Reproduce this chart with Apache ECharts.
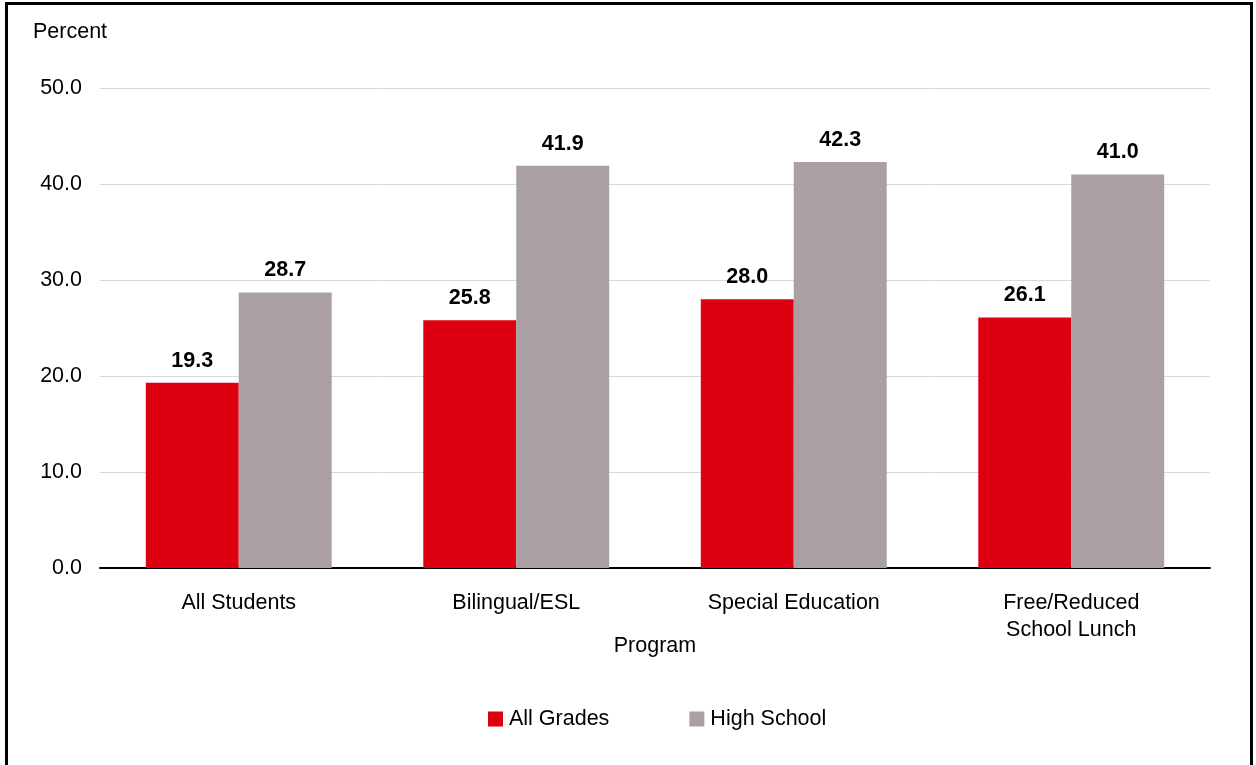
<!DOCTYPE html>
<html>
<head>
<meta charset="utf-8">
<script src="https://cdn.jsdelivr.net/npm/echarts@6/dist/echarts.min.js"></script>
<style>
  html, body { margin: 0; padding: 0; background: #fff; }
  #frame { position: absolute; left: 5px; top: 2px; width: 1248px; height: 780px;
           border: 3px solid #000; box-sizing: border-box; }
  #chart { position: absolute; left: 0; top: 0; width: 1256px; height: 765px; }
</style>
</head>
<body>
<div id="frame"></div>
<div id="chart"></div>
<script>
const categories = ['All Students', 'Bilingual/ESL', 'Special Education', 'Free/Reduced\nSchool Lunch'];
const allGrades = [19.3, 25.8, 28.0, 26.1];
const highSchool = [28.7, 41.9, 42.3, 41.0];
const seriesNames = ['All Grades', 'High School'];

const FONT = '"Liberation Sans", Arial, sans-serif';
const FS = 21.5;
const chart = echarts.init(document.getElementById('chart'));

const labelStyle = {
  show: true,
  position: 'top',
  distance: 11,
  fontFamily: FONT,
  fontSize: FS,
  fontWeight: 'bold',
  color: '#000',
  formatter: p => p.value.toFixed(1)
};

chart.setOption({
  animation: false,
  backgroundColor: 'transparent',
  textStyle: { fontFamily: FONT },
  grid: { left: 100, right: 46, top: 88, bottom: 197, containLabel: false },
  graphic: [{
    type: 'text', left: 33, top: 21,
    style: { text: 'Percent', font: FS + 'px ' + FONT, fill: '#000' }
  }],
  legend: {
    data: seriesNames,
    top: 703,
    left: 483,
    itemWidth: 15,
    itemHeight: 15,
    itemGap: 80,
    icon: 'rect',
    textStyle: { fontFamily: FONT, fontSize: FS, color: '#000', padding: [0, 0, 0, 1] }
  },
  xAxis: {
    type: 'category',
    data: categories,
    name: 'Program',
    nameLocation: 'middle',
    nameGap: 67,
    nameMoveOverlap: false,
    nameTextStyle: { fontFamily: FONT, fontSize: FS, color: '#000' },
    axisLine: { lineStyle: { color: '#000', width: 2 } },
    axisTick: { show: false },
    axisLabel: { fontFamily: FONT, fontSize: FS, color: '#000', margin: 22, lineHeight: 27, interval: 0 }
  },
  yAxis: {
    type: 'value',
    min: 0, max: 50, interval: 10,
    axisLine: { show: false },
    axisTick: { show: false },
    splitLine: { lineStyle: { color: '#d9d9d9', width: 1 } },
    axisLabel: { fontFamily: FONT, fontSize: FS, color: '#000', margin: 18, formatter: v => v.toFixed(1) }
  },
  series: [
    {
      name: seriesNames[0], type: 'bar', data: allGrades,
      barGap: '0%', barCategoryGap: '33%',
      itemStyle: { color: '#dc0011' },
      label: labelStyle
    },
    {
      name: seriesNames[1], type: 'bar', data: highSchool,
      barGap: '0%', barCategoryGap: '33%',
      itemStyle: { color: '#aaa0a1' },
      label: labelStyle
    }
  ]
});
</script>
</body>
</html>
